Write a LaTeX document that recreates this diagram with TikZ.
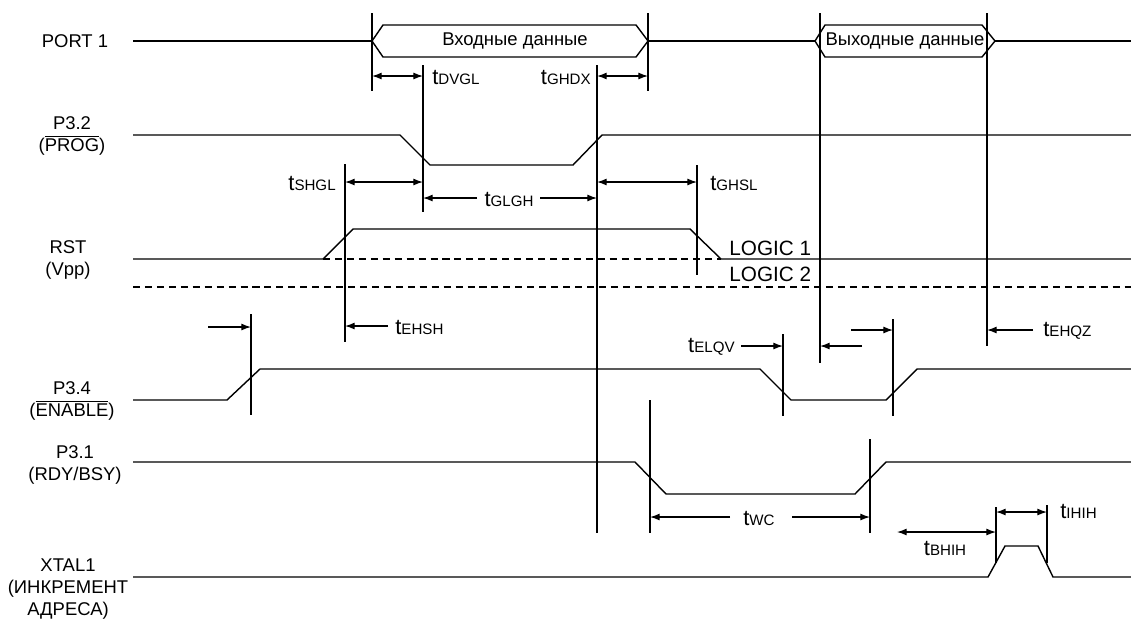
\documentclass[tikz,border=0pt]{standalone}
\usepackage{fontspec}
\setmainfont{Liberation Sans}
\usetikzlibrary{arrows.meta}

\newcommand{\tsub}[1]{{\fontsize{12.5}{13}\selectfont t}{\fontsize{8.6}{9}\selectfont #1}}

\begin{document}
\begin{tikzpicture}[x=0.02cm,y=-0.02cm,
    font=\fontsize{10.5}{12.3}\selectfont,
    signal/.style={line width=0.8pt},
    marker/.style={line width=0.7pt},
    level/.style={line width=0.7pt,dash pattern=on 4pt off 2.8pt},
    dim/.style={line width=0.7pt,-{Latex[length=5.5pt,width=4pt]}},
    dimboth/.style={line width=0.7pt,{Latex[length=5.5pt,width=4pt]}-{Latex[length=5.5pt,width=4pt]}},
    lbl/.style={align=center,inner sep=0pt}]
    \useasboundingbox (0,0) rectangle (1131,619);

    % signal names
    \node[lbl] (port) at (75,41) {PORT 1};
    \node[lbl] (prog) at (72,136) {P3.2\\($\overline{\mbox{PROG}}$)};
    \node[lbl] (rst) at (68,260) {RST\\(Vpp)};
    \node[lbl] (enable) at (72,401) {P3.4\\($\overline{\mbox{ENABLE}}$)};
    \node[lbl] (rdy) at (75,465) {P3.1\\(RDY/BSY)};
    \node[lbl] (xtal) at (68,589) {XTAL1\\(ИНКРЕМЕНТ\\АДРЕСА)};

    % PORT 1
    \draw[signal] (133,41) -- (372,41);
    \draw[signal] (372,41) -- (383,25) -- (636,25) -- (648,41) -- (636,57) -- (383,57) -- cycle;
    \node[lbl] (din) at (515,41) {Входные данные};
    \draw[signal] (648,41) -- (815,41);
    \draw[signal] (815,41) -- (825,25) -- (982,25) -- (995,41) -- (982,57) -- (825,57) -- cycle;
    \node[lbl] (dout) at (905,41) {Выходные данные};
    \draw[line width=1pt] (995,41) -- (1131,41);

    % P3.2
    \draw[signal] (133,135) -- (400,135) -- (430,165) -- (573,165) -- (602,135) -- (1131,135);

    % RST
    \draw[signal] (133,259) -- (323,259) -- (353,229) -- (690,229) -- (721,259) -- (1131,259);
    \draw[level] (323,259) -- (721,259);
    \draw[level] (133,287) -- (1131,287);
    \node[lbl, anchor=west] (logic1) at (729,248) {\fontsize{11.8}{13}\selectfont LOGIC 1};
    \node[lbl, anchor=west] (logic2) at (729,274) {\fontsize{11.8}{13}\selectfont LOGIC 2};

    % P3.4
    \draw[signal] (133,400) -- (227,400) -- (260,369) -- (760,369) -- (791,400) -- (886,400) -- (917,369) -- (1131,369);

    % P3.1
    \draw[signal] (133,462) -- (635,462) -- (666,494) -- (855,494) -- (886,462) -- (1131,462);

    % XTAL1
    \draw[signal] (133,577) -- (988,577) -- (1005,546) -- (1038,546) -- (1053,577) -- (1131,577);

    % markers
    \draw[marker] (372,13) -- (372,91);
    \draw[marker] (648,13) -- (648,91);
    \draw[marker] (820,13) -- (820,363);
    \draw[marker] (987,13) -- (987,346);
    \draw[marker] (423,65) -- (423,212);
    \draw[marker] (597,65) -- (597,533);
    \draw[marker] (345,164) -- (345,342);
    \draw[marker] (697,165) -- (697,275);
    \draw[marker] (251,314) -- (251,415);
    \draw[marker] (783,334) -- (783,416);
    \draw[marker] (893,319) -- (893,416);
    \draw[marker] (650,400) -- (650,533);
    \draw[marker] (870,439) -- (870,533);
    \draw[marker] (996,507) -- (996,563);
    \draw[marker] (1047,505) -- (1047,563);

    % timing
    \draw[dimboth] (372,76) -- (423,76);
    \node[lbl, anchor=west] (dvgl) at (432,77) {\tsub{DVGL}};
    \draw[dimboth] (597,76) -- (648,76);
    \node[lbl, anchor=east] (ghdx) at (591,77) {\tsub{GHDX}};

    \draw[dimboth] (345,182) -- (423,182);
    \node[lbl, anchor=east] (shgl) at (336,183) {\tsub{SHGL}};
    \draw[dimboth] (597,182) -- (697,182);
    \node[lbl, anchor=west] (ghsl) at (710,183) {\tsub{GHSL}};
    \node[lbl] (glgh) at (509,199) {\tsub{GLGH}};
    \draw[dim] (477,198) -- (423,198);
    \draw[dim] (540,198) -- (597,198);

    \node[lbl, anchor=west] (ehsh) at (395,327) {\tsub{EHSH}};
    \draw[dim] (388,326) -- (345,326);
    \draw[dim] (208,327) -- (251,327);

    \node[lbl, anchor=east] (elqv) at (735,347) {\tsub{ELQV}};
    \draw[dim] (741,346) -- (783,346);
    \draw[dim] (862,346) -- (820,346);
    \draw[dim] (851,330) -- (893,330);
    \draw[dim] (1033,330) -- (987,330);
    \node[lbl, anchor=west] (ehqz) at (1043,331) {\tsub{EHQZ}};

    \node[lbl] (wc) at (759,518) {\tsub{WC}};
    \draw[dim] (730,517) -- (650,517);
    \draw[dim] (792,517) -- (870,517);

    \draw[dimboth] (897,532) -- (996,532);
    \node[lbl] (bhih) at (945,548) {\tsub{BHIH}};
    \draw[dimboth] (996,512) -- (1047,512);
    \node[lbl, anchor=west] (ihih) at (1060,511) {\tsub{IHIH}};
\end{tikzpicture}
\end{document}
